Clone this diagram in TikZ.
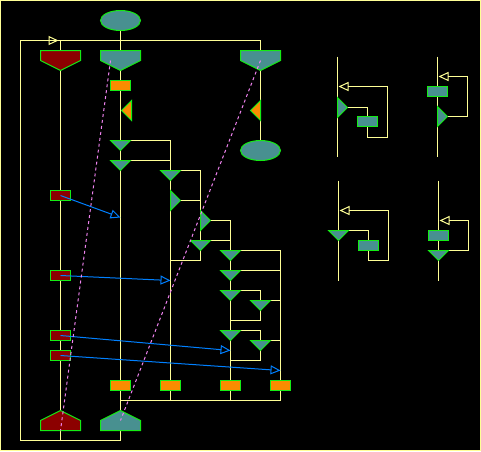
\documentclass[tikz,border=0pt]{standalone}
\usepackage{tikz}
\usetikzlibrary{shapes.geometric,arrows.meta}
\definecolor{lyel}{RGB}{255,255,150}
\definecolor{lgrn}{RGB}{20,235,20}
\definecolor{tealc}{RGB}{72,144,144}
\definecolor{redc}{RGB}{140,0,0}
\definecolor{orgc}{RGB}{250,140,0}
\definecolor{bluc}{RGB}{0,128,255}
\definecolor{pnkc}{RGB}{238,130,238}
\pgfdeclarelayer{bg}
\pgfdeclarelayer{wires}
\pgfsetlayers{bg,wires,main}
\tikzset{
	ln/.style={draw=lyel,line width=1pt},
	shp/.style={draw=lgrn,line width=1pt},
	blu/.style={draw=bluc,line width=1pt},
	pnk/.style={draw=pnkc,line width=1pt,dash pattern=on 3pt off 3pt},
	opn/.style={-{Triangle[open,length=10pt,width=9pt]}},
	boxn/.style={shp,rectangle,minimum width=20pt,minimum height=10pt,inner sep=0pt},
	elln/.style={shp,ellipse,fill=tealc,minimum width=40pt,minimum height=20pt,inner sep=0pt},
	dtri/.pic={\filldraw[shp,fill=tealc] (-10,0) coordinate (-l) -- (10,0) coordinate (-r) -- (0,10) coordinate (-b) -- cycle; \coordinate (-c) at (0,0);},
	rtri/.pic={\filldraw[shp,fill=tealc] (0,-10) -- (10,0) coordinate (-t) -- (0,10) -- cycle;},
	ltri/.pic={\filldraw[shp,fill=orgc] (0,0) -- (10,-10) -- (10,10) -- cycle;},
	pent/.pic={\filldraw[shp,fill=#1] (-20,0) -- (20,0) -- (20,10) -- (0,20) -- (-20,10) -- cycle; \coordinate (-c) at (0,10);},
	house/.pic={\filldraw[shp,fill=#1] (-20,0) -- (-20,-10) -- (0,-20) -- (20,-10) -- (20,0) -- cycle; \coordinate (-c) at (0,-10); \coordinate (-b) at (0,0);},
}
\begin{document}
\begin{tikzpicture}[x=1pt,y=-1pt]
	\useasboundingbox (0,0) rectangle (481,451);
	\begin{pgfonlayer}{bg}
		\fill[black] (0,0) rectangle (481,451);
	\end{pgfonlayer}
	\draw[ln] (0.5,0.5) rectangle (480.5,450.5);
	\begin{scope}[shift={(0.5,0.5)}]
	\node[elln] (e1) at (120,20) {};
	\node[elln] (e2) at (260,150) {};
	\pic (p1) at (60,50) {pent=redc};
	\pic (p2) at (120,50) {pent=tealc};
	\pic (p3) at (260,50) {pent=tealc};
	\node[boxn,fill=orgc] (o1) at (120,85) {};
	\pic (g1) at (121,110) {ltri};
	\pic (g2) at (250,110) {ltri};
	\pic (t1) at (120,140) {dtri};
	\pic (t2) at (120,160) {dtri};
	\pic (t3) at (170,170) {dtri};
	\pic (s1) at (170,200) {rtri};
	\pic (s2) at (200,220) {rtri};
	\pic (t4) at (200,240) {dtri};
	\pic (t5) at (230,250) {dtri};
	\pic (t6) at (230,270) {dtri};
	\pic (t7) at (230,290) {dtri};
	\pic (t8) at (260,300) {dtri};
	\pic (t9) at (230,330) {dtri};
	\pic (t10) at (260,340) {dtri};
	\node[boxn,fill=orgc] (o2) at (120,385) {};
	\node[boxn,fill=orgc] (o3) at (170,385) {};
	\node[boxn,fill=orgc] (o4) at (230,385) {};
	\node[boxn,fill=orgc] (o5) at (280,385) {};
	\node[boxn,fill=redc] (r1) at (60,195) {};
	\node[boxn,fill=redc] (r2) at (60,275) {};
	\node[boxn,fill=redc] (r3) at (60,335) {};
	\node[boxn,fill=redc] (r4) at (60,355) {};
	\pic (h1) at (60,430) {house=redc};
	\pic (h2) at (120,430) {house=tealc};

	\pic (sa) at (337,107) {rtri};
	\node[boxn,fill=tealc] (qa) at (367,121) {};
	\node[boxn,fill=tealc] (qb) at (437,91) {};
	\pic (sb) at (437,116) {rtri};
	\pic (tc) at (338,230) {dtri};
	\node[boxn,fill=tealc] (qc) at (368,245) {};
	\node[boxn,fill=tealc] (qd) at (438,235) {};
	\pic (td) at (438,250) {dtri};

	\coordinate (c1) at (20,40);
	\coordinate (c2) at (260,40);
	\coordinate (c3) at (20,440);
	\coordinate (c4) at (60,40);
	\coordinate (c5) at (60,440);
	\coordinate (c6) at (120,440);
	\coordinate (a0) at (58,40);
	\coordinate (k1) at (170,140);
	\coordinate (k2) at (170,400);
	\coordinate (k3) at (280,400);
	\coordinate (k4) at (120,400);
	\coordinate (k5) at (200,260);
	\coordinate (k6) at (230,400);
	\coordinate (k7) at (230,320);
	\coordinate (k8) at (230,360);
	\coordinate (b1) at (120,217);
	\coordinate (b2) at (170,280);
	\coordinate (b3) at (230,350);
	\coordinate (b4) at (280,370);
	\coordinate (ua) at (337,56);
	\coordinate (la) at (337,156);
	\coordinate (ma) at (387,137);
	\coordinate (ta) at (338,86);
	\coordinate (ub) at (437,56);
	\coordinate (lb) at (437,156);
	\coordinate (mb) at (467,116);
	\coordinate (tb) at (438,76);
	\coordinate (uc) at (338,180);
	\coordinate (lc) at (338,280);
	\coordinate (mc) at (388,260);
	\coordinate (tcc) at (339,210);
	\coordinate (ud) at (438,180);
	\coordinate (ld) at (438,280);
	\coordinate (md) at (468,250);
	\coordinate (tdd) at (439,220);

	\begin{pgfonlayer}{wires}
		\draw[ln] (c4) -- (c1) -- (c3) -- (c6);
		\draw[ln,opn] (c1) -- (a0);
		\draw[ln] (a0) -- (c2) -- (e2);
		\draw[ln] (c4) -- (c5);
		\draw[ln] (e1) -- (c6);
		\draw[ln] (t1-r) -| (k2);
		\draw[ln] (k4) -- (k3) |- (t5-r);
		\draw[ln] (t2-r) -- (t2-r -| k1);
		\draw[ln] (t3-r) -| (k5) -- (k5 -| k1);
		\draw[ln] (s1-t) -- (s1-t -| k5);
		\draw[ln] (s2-t) -| (k6);
		\draw[ln] (t4-r) -- (t4-r -| k6);
		\draw[ln] (t6-r) -- (t6-r -| k3);
		\draw[ln] (t7-r) -| (t8-c);
		\draw[ln] (t8-r) -- (t8-r -| k3);
		\draw[ln] (t8-b) |- (k7);
		\draw[ln] (t9-r) -| (t10-c);
		\draw[ln] (t10-r) -- (t10-r -| k3);
		\draw[ln] (t10-b) |- (k8);

		\draw[ln] (ua) -- (la);
		\draw[ln] (sa-t) -| (qa);
		\draw[ln,opn] (qa) |- (ma) |- (ta);
		\draw[ln] (ub) -- (lb);
		\draw[ln,opn] (sb-t) -- (mb) |- (tb);
		\draw[ln] (uc) -- (lc);
		\draw[ln] (tc-r) -| (qc);
		\draw[ln,opn] (qc) |- (mc) |- (tcc);
		\draw[ln] (ud) -- (ld);
		\draw[ln,opn] (td-r) -- (md) |- (tdd);
	\end{pgfonlayer}

	\draw[blu,opn] (r1.center) -- (b1);
	\draw[blu,opn] (r2.center) -- (b2);
	\draw[blu,opn] (r3.center) -- (b3);
	\draw[blu,opn] (r4.center) -- (b4);
	\draw[pnk] ([xshift=-10pt]p2-c) -- (h1-b);
	\draw[pnk] (p3-c) -- (h2-c);
	\end{scope}
\end{tikzpicture}
\end{document}
